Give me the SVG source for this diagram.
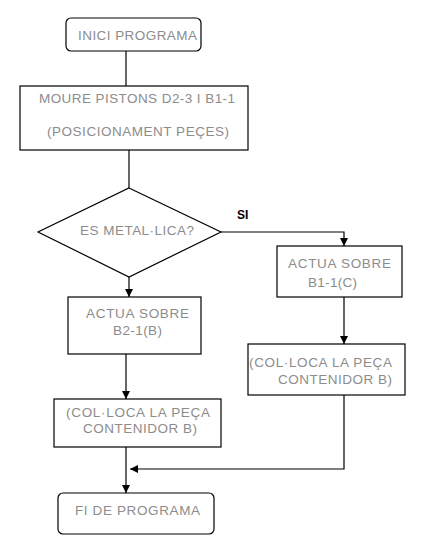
<svg xmlns="http://www.w3.org/2000/svg" width="426" height="549" viewBox="0 0 426 549">
<defs>
<style>
.box{fill:#fff;stroke:#000;stroke-width:1.2}
.t{font-family:"Liberation Sans",Arial,sans-serif;font-size:13.5px;fill:#8c8c8c}
.lbl{font-family:"Liberation Sans",Arial,sans-serif;font-size:12px;font-weight:bold;fill:#000}
.c{fill:none;stroke:#000;stroke-width:1.2}
</style>
<marker id="ah" viewBox="0 0 10 10" refX="10" refY="5" markerWidth="8" markerHeight="8" markerUnits="userSpaceOnUse" orient="auto">
<path d="M0,0 L10,5 L0,10 z" fill="#000"/>
</marker>
</defs>
<rect width="426" height="549" fill="#fff"/>
<g id="connectors">
<line class="c" x1="126" y1="51" x2="126" y2="86"/>
<line class="c" x1="129" y1="150" x2="129" y2="188"/>
<polyline class="c" points="221,232 344,232 344,246" marker-end="url(#ah)"/>
<line class="c" x1="129" y1="277" x2="129" y2="297" marker-end="url(#ah)"/>
<line class="c" x1="344" y1="297" x2="344" y2="344" marker-end="url(#ah)"/>
<line class="c" x1="126" y1="354" x2="126" y2="399" marker-end="url(#ah)"/>
<line class="c" x1="126" y1="447" x2="126" y2="493" marker-end="url(#ah)"/>
<polyline class="c" points="344,395 344,469 130,469" marker-end="url(#ah)"/>
<text class="lbl" x="237" y="219">SI</text>
</g>
<g id="inici">
<rect class="box" x="66" y="18" width="135" height="33" rx="5"/>
<text class="t" x="78" y="40" textLength="119" lengthAdjust="spacing">INICI PROGRAMA</text>
</g>
<g id="moure">
<rect class="box" x="20" y="86" width="228" height="64"/>
<text class="t" x="39" y="103" textLength="196" lengthAdjust="spacing">MOURE PISTONS D2-3 I B1-1</text>
<text class="t" x="47" y="136" textLength="182" lengthAdjust="spacing">(POSICIONAMENT PEÇES)</text>
</g>
<g id="decisio">
<polygon class="box" points="129,188 221,232 129,277 38,232"/>
<text class="t" x="80" y="235" textLength="114" lengthAdjust="spacing">ES METAL·LICA?</text>
</g>
<g id="actua-b1">
<rect class="box" x="277" y="246" width="125" height="51"/>
<text class="t" x="288" y="268" textLength="103" lengthAdjust="spacing">ACTUA SOBRE</text>
<text class="t" x="308" y="287" textLength="49" lengthAdjust="spacing">B1-1(C)</text>
</g>
<g id="colloca-dreta">
<rect class="box" x="248" y="344" width="157" height="51"/>
<text class="t" x="249" y="367" textLength="143" lengthAdjust="spacing">(COL·LOCA LA PEÇA</text>
<text class="t" x="278" y="384" textLength="114" lengthAdjust="spacing">CONTENIDOR B)</text>
</g>
<g id="actua-b2">
<rect class="box" x="68" y="297" width="133" height="57"/>
<text class="t" x="86" y="318" textLength="103" lengthAdjust="spacing">ACTUA SOBRE</text>
<text class="t" x="113" y="335" textLength="49" lengthAdjust="spacing">B2-1(B)</text>
</g>
<g id="colloca-esq">
<rect class="box" x="54" y="399" width="167" height="48"/>
<text class="t" x="66" y="417" textLength="144" lengthAdjust="spacing">(COL·LOCA LA PEÇA</text>
<text class="t" x="83" y="433" textLength="114" lengthAdjust="spacing">CONTENIDOR B)</text>
</g>
<g id="fi">
<rect class="box" x="58" y="493" width="156" height="41" rx="5"/>
<text class="t" x="75" y="515" textLength="125" lengthAdjust="spacing">FI DE PROGRAMA</text>
</g>
</svg>
